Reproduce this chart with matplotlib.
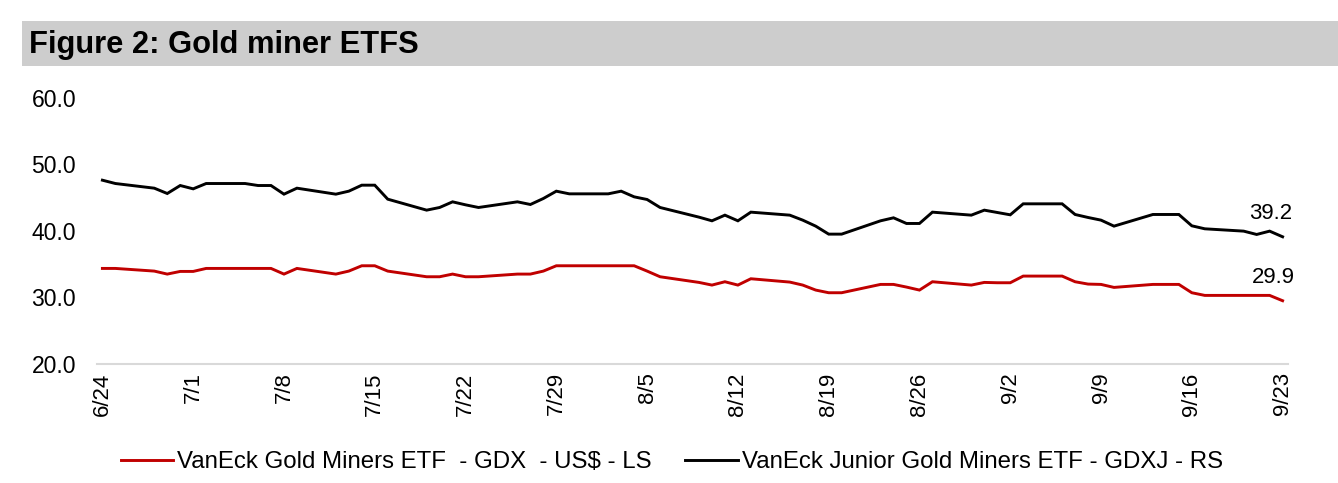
import matplotlib
matplotlib.use("Agg")
import matplotlib.pyplot as plt
from matplotlib.patches import Rectangle
import pandas as pd

day_offsets = [0, 1, 4, 5, 6, 7, 8, 11, 12, 13, 14, 15, 18, 19, 20, 21, 22,
               25, 26, 27, 28, 29, 32, 33, 34, 35, 36, 39, 40, 41, 42, 43,
               46, 47, 48, 49, 50, 53, 54, 55, 56, 57, 60, 61, 62, 63, 64,
               67, 68, 69, 70, 71, 74, 75, 76, 77, 78, 81, 82, 83, 84, 85,
               88, 89, 90, 91]
start_date = "2024-06-24"

gdx = [34.35, 34.35, 33.95, 33.5, 33.9, 33.9, 34.35, 34.35, 34.35, 34.35, 33.5, 34.35,
       33.5, 33.95, 34.75, 34.75, 33.95,
       33.1, 33.1, 33.5, 33.1, 33.1, 33.5, 33.5, 33.95, 34.75, 34.75, 34.75, 34.75, 34.75,
       33.95, 33.1,
       32.25, 31.85, 32.35, 31.85, 32.8, 32.3, 31.85, 31.1, 30.7, 30.7, 31.95, 31.95, 31.55,
       31.1, 32.35,
       31.85, 32.25, 32.2, 32.2, 33.2, 33.2, 32.35, 32.0, 31.95, 31.5, 31.95, 31.95, 31.95,
       30.7, 30.3, 30.3, 30.3, 30.3, 29.5]

gdxj = [47.6, 47.1, 46.4, 45.6, 46.8, 46.3, 47.1, 47.1, 46.8, 46.8, 45.5, 46.4,
        45.5, 45.95, 46.85, 46.85, 44.75,
        43.1, 43.5, 44.35, 43.9, 43.5, 44.35, 43.95, 44.85, 45.95, 45.55, 45.55, 45.95, 45.1,
        44.7, 43.5,
        42.05, 41.5, 42.35, 41.5, 42.8, 42.35, 41.6, 40.7, 39.5, 39.5, 41.5, 41.95, 41.1,
        41.1, 42.8,
        42.35, 43.1, 42.75, 42.4, 44.05, 44.05, 42.45, 42.0, 41.6, 40.7, 42.45, 42.45, 42.45,
        40.75, 40.3, 39.95, 39.45, 39.95, 39.1]

tick_dates = ["2024-06-24", "2024-07-01", "2024-07-08", "2024-07-15", "2024-07-22",
              "2024-07-29", "2024-08-05", "2024-08-12", "2024-08-19", "2024-08-26",
              "2024-09-02", "2024-09-09", "2024-09-16", "2024-09-23"]
y_ticks = [20, 30, 40, 50, 60]

title = "Figure 2: Gold miner ETFS"
label_gdx = "VanEck Gold Miners ETF  - GDX  - US$ - LS"
label_gdxj = "VanEck Junior Gold Miners ETF - GDXJ - RS"
end_gdx_text = "29.9"
end_gdxj_text = "39.2"

dates = pd.Timestamp(start_date) + pd.to_timedelta(day_offsets, unit="D")
ticks = pd.to_datetime(tick_dates)

plt.rcParams['font.family'] = ['Liberation Sans', 'DejaVu Sans']

fig = plt.figure(figsize=(13.38, 4.83), dpi=100)
fig.patch.set_facecolor("white")

# Title bar
fig.patches.append(Rectangle((22/1338, 1-66/483), 1.0, 45/483, transform=fig.transFigure,
                             facecolor="#cdcdcd", edgecolor="none", zorder=0))
fig.text(29/1338, 1-45/483, title, fontsize=22.2, fontweight="bold", va="center", ha="left",
         color="black")

ax = fig.add_axes([97/1338, 1-364/483, (1288-97)/1338, (364-97.6)/483])
RED = "#c00000"
l1, = ax.plot(dates, gdx, color=RED, lw=2.1, solid_joinstyle="miter")
l2, = ax.plot(dates, gdxj, color="black", lw=2.1, solid_joinstyle="miter")

ax.set_ylim(20, 60)
ax.set_yticks(y_ticks)
ax.set_yticklabels([f"{v:.1f}" for v in y_ticks])
pad = pd.Timedelta(hours=10)
ax.set_xlim(dates[0] - pad, dates[-1] + pad)
ax.set_xticks(ticks)
ax.set_xticklabels([f"{d.month}/{d.day}" for d in ticks], rotation=90)

for s in ["top", "right", "left"]:
    ax.spines[s].set_visible(False)
ax.spines["bottom"].set_color("#d9d9d9")
ax.spines["bottom"].set_linewidth(1.5)
ax.tick_params(axis="both", length=0, labelsize=16, colors="black")
ax.tick_params(axis="y", labelsize=16.5, pad=15)
ax.tick_params(axis="x", pad=6)

ax.annotate(end_gdxj_text, (dates[-1], gdxj[-1]), xytext=(7, 16.5), textcoords="offset points",
            ha="right", va="center", fontsize=16)
ax.annotate(end_gdx_text, (dates[-1], gdx[-1]), xytext=(9, 16.5), textcoords="offset points",
            ha="right", va="center", fontsize=16)

fig.legend([l1, l2], [label_gdx, label_gdxj], loc="center", bbox_to_anchor=(0.502, 1-462.5/483),
           ncol=2, frameon=False, fontsize=17.3, handlelength=2.2, handletextpad=0.15,
           columnspacing=1.4)

fig.savefig("out.png", dpi=100)
